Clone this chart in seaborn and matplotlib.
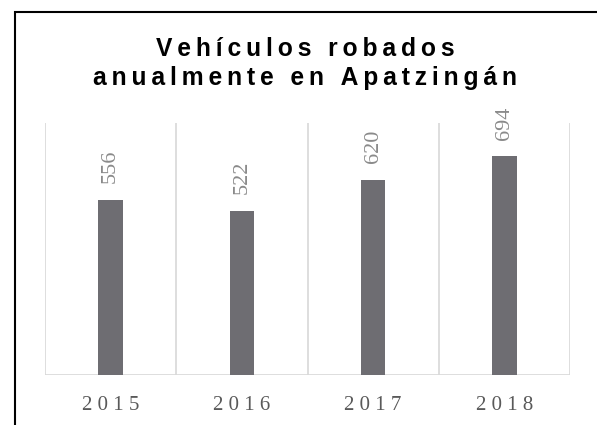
"""Bar chart of stolen vehicles per year in Apatzingán."""

import matplotlib
matplotlib.use("Agg")
import matplotlib.pyplot as plt
import seaborn as sns
from matplotlib.patches import Rectangle

# Data
years = ["2015", "2016", "2017", "2018"]
stolen = [556, 522, 620, 694]
title_lines = ["Vehículos robados", "anualmente en Apatzingán"]

BAR_COLOR = "#6E6D72"
GRID_COLOR = "#D9D9D9"
TICK_COLOR = "#595959"
LABEL_COLOR = "#8A8A8A"
THIN = "\u2009"


def spaced(text, gap=THIN):
    """Imitate letter spacing by putting thin spaces between characters"""
    return gap.join(text)


def plot_stolen_vehicles(output="out.png"):
    sns.set_style("white")
    fig = plt.figure(figsize=(5.97, 4.25), dpi=100)
    ax = fig.add_axes([0.0754, 0.1176, 0.8794, 0.5929])

    sns.barplot(x=years, y=stolen, color=BAR_COLOR, saturation=1,
                width=0.185, errorbar=None, linewidth=0, ax=ax)

    ax.set_xlim(-0.5, len(years) - 0.5)
    ax.set_ylim(0, 800)
    for side in ax.spines.values():
        side.set_visible(False)
    ax.set_yticks([])
    ax.set_xlabel("")
    ax.set_ylabel("")

    # category separators and baseline
    for i in range(len(years) + 1):
        ax.axvline(i - 0.5, color=GRID_COLOR, lw=1.25, zorder=0)
    ax.axhline(0, color=GRID_COLOR, lw=1.25, zorder=0)

    ax.set_xticks(range(len(years)))
    ax.set_xticklabels([" ".join(y) for y in years], family="Liberation Serif",
                       fontsize=15, color=TICK_COLOR)
    ax.tick_params(axis="x", length=0, pad=15)

    # value labels, rotated like the original
    for i, v in enumerate(stolen):
        ax.annotate(str(v), xy=(i, v), xytext=(0, 12), textcoords="offset points",
                    rotation=90, ha="center", va="bottom", fontsize=16,
                    family="Liberation Serif", color=LABEL_COLOR,
                    annotation_clip=False)

    # title, two lines with wide tracking
    for line, y in zip(title_lines, [0.869, 0.800]):
        words = [spaced(w) for w in line.split(" ")]
        fig.text(0.511, y, (" " + THIN * 2).join(words), ha="center",
                 va="baseline", fontsize=17.7, fontweight="bold",
                 family=["Liberation Sans", "DejaVu Sans"], color="black")

    # chart frame (runs off the right and bottom of the image)
    fig.patches.append(Rectangle((15 / 597, -0.2), 1.0, 1.2 - 11.7 / 425,
                                 transform=fig.transFigure, fill=False,
                                 edgecolor="black", lw=1.5))

    fig.savefig(output, dpi=100)
    plt.close(fig)


if __name__ == "__main__":
    plot_stolen_vehicles()
